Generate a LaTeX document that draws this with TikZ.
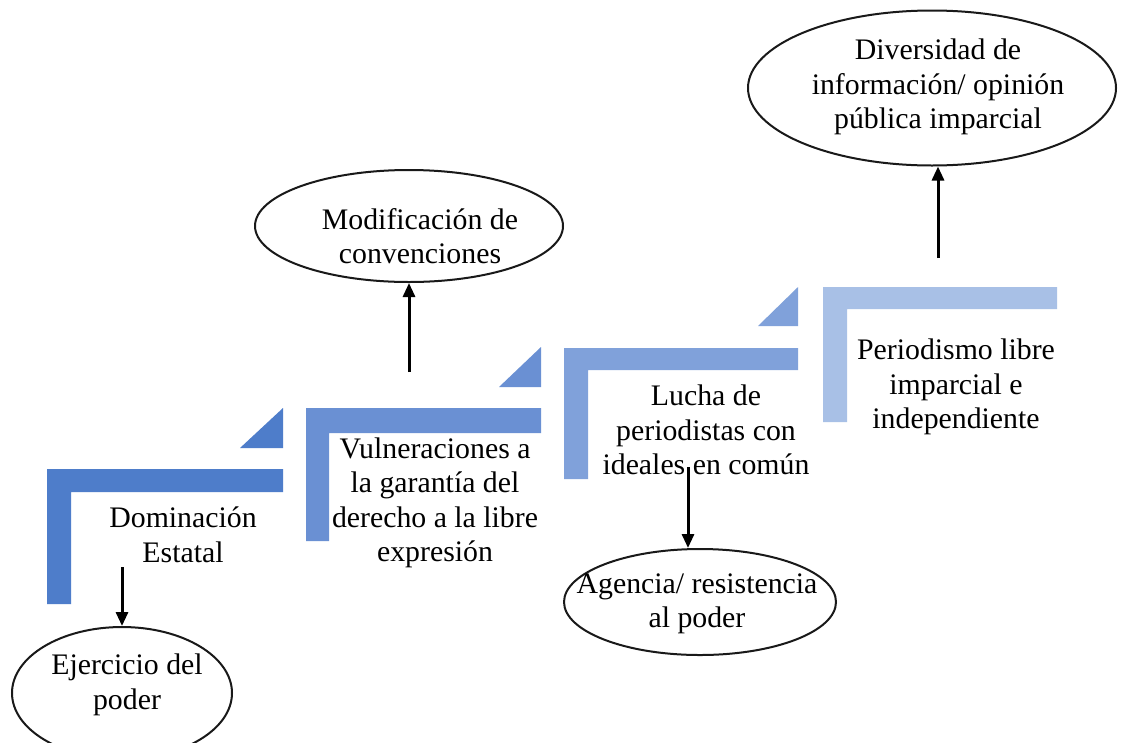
\documentclass[tikz,border=0pt]{standalone}
\usepackage{fontspec}
\setmainfont{Liberation Serif}
\usetikzlibrary{arrows.meta,shapes.geometric}
\definecolor{stepA}{HTML}{4E7DCA}
\definecolor{stepB}{HTML}{6A90D3}
\definecolor{stepC}{HTML}{80A1DA}
\definecolor{stepD}{HTML}{A8C0E6}
\tikzset{
  oval/.style={ellipse,draw=black!90,line width=2pt,inner sep=0pt},
  txt/.style={align=center,inner sep=0pt,font=\fontsize{29.8}{34.5}\selectfont},
  arr/.style={line width=3pt,-{Triangle[length=14pt,width=12pt]}},
}
\begin{document}
\begin{tikzpicture}[x=1pt,y=-1pt]
\useasboundingbox[fill=white] (0,0) rectangle (1123,742);
% steps
\fill[stepA] (47,469) -- (283,469) -- (283,492) -- (71,492) -- (71,604) -- (47,604) -- cycle;
\fill[stepA] (240,448) -- (283,448) -- (283,408) -- cycle;
\fill[stepB] (306,408) -- (541,408) -- (541,433) -- (329,433) -- (329,541) -- (306,541) -- cycle;
\fill[stepB] (499,387) -- (541,387) -- (541,347) -- cycle;
\fill[stepC] (564,348) -- (798,348) -- (798,370) -- (588,370) -- (588,479) -- (564,479) -- cycle;
\fill[stepC] (758,326) -- (798,326) -- (798,287) -- cycle;
\fill[stepD] (823,287) -- (1057,287) -- (1057,309) -- (847,309) -- (847,422) -- (823,422) -- cycle;
% step texts
\node[txt] (dom) at (183,535) {Dominación\\Estatal};
\node[txt] (vul) at (435,503) {Vulneraciones a\\la garantía del\\derecho a la libre\\expresión};
\node[txt] (luc) at (706,430) {Lucha de\\periodistas con\\ideales en común};
\node[txt] (per) at (956,387) {Periodismo libre\\imparcial e\\independiente};
% ellipses
\node[oval,minimum width=308pt,minimum height=112pt] (mod) at (409,226) {};
\node[oval,minimum width=368pt,minimum height=155pt] (div) at (932,88) {};
\node[oval,minimum width=272pt,minimum height=106pt] (age) at (700,602) {};
\node[oval,minimum width=220pt,minimum height=132pt] (eje) at (122,693) {};
\node[txt] (modt) at (420,236) {Modificación de\\convenciones};
\node[txt] (divt) at (938,87) {Diversidad de\\información/ opinión\\pública imparcial};
\node[txt] (aget) at (697,604) {Agencia/ resistencia\\al poder};
\node[txt] (ejet) at (127,685) {Ejercicio del\\poder};
% arrows
\coordinate (c1) at (122,567);
\coordinate (c2) at (409,372);
\coordinate (c3) at (688,467);
\coordinate (c4) at (938,258);
\draw[arr] (c1) -- (eje.north);
\draw[arr] (c2) -- (mod.south);
\draw[arr] (c3) -- (c3 |- age.north);
\draw[arr] (c4) -- (c4 |- div.south);
\end{tikzpicture}
\end{document}
